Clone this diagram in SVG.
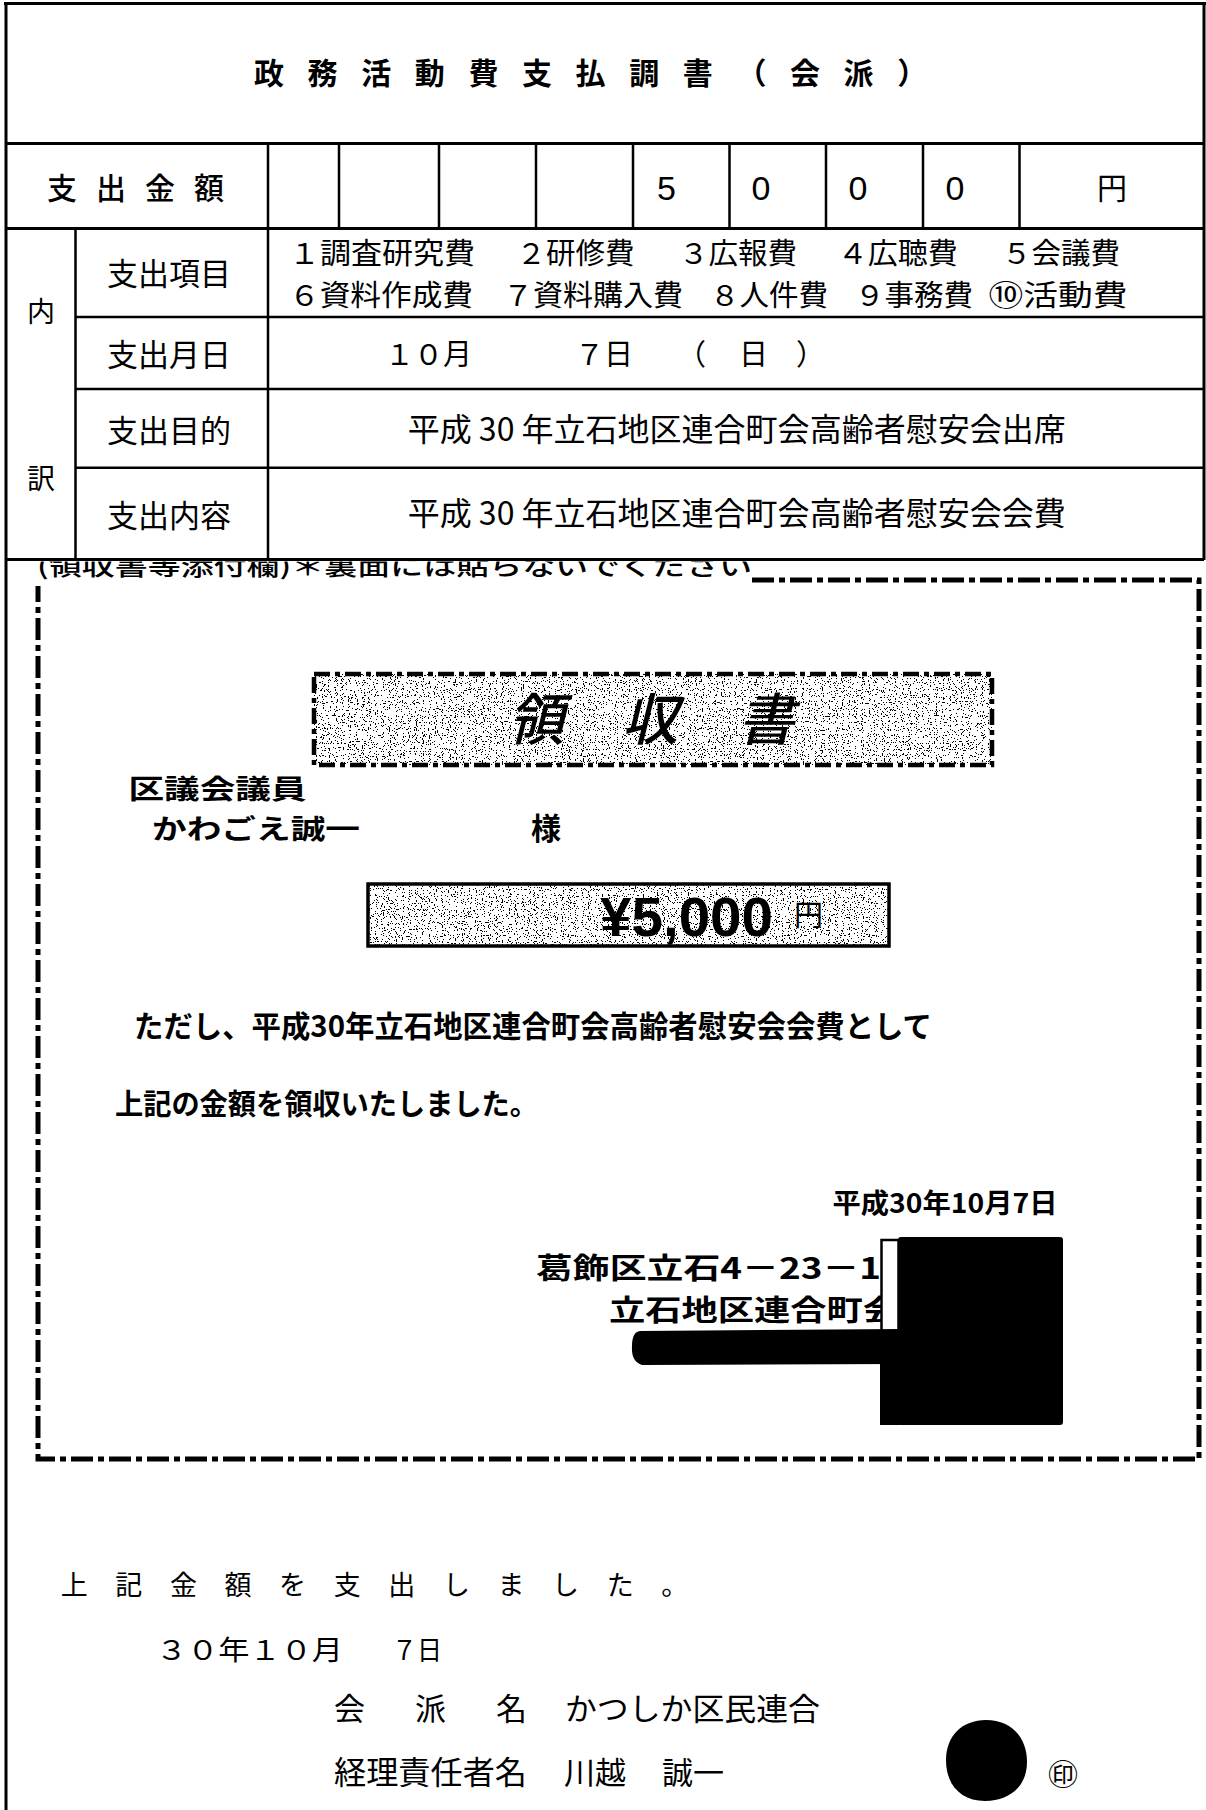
<svg xmlns="http://www.w3.org/2000/svg" width="1206" height="1810" viewBox="0 0 1206 1810">
<defs>
<style>
text{font-family:"Noto Sans CJK JP","Noto Sans CJK SC",sans-serif;fill:#000}
.ln{stroke:#000;stroke-width:3;fill:none}
.lt{stroke:#000;stroke-width:2.5;fill:none}
.b{font-weight:700}
.lat{font-family:"Liberation Sans",Arial,sans-serif}
.dd1{stroke:#000;stroke-width:5;fill:none;stroke-dasharray:22 5 6 5}
.dd2{stroke:#000;stroke-width:4.5;fill:none;stroke-dasharray:16 5 5 5}
</style>
<filter id="stip" x="0" y="0" width="1" height="1" color-interpolation-filters="sRGB">
<feTurbulence type="fractalNoise" baseFrequency="0.85" numOctaves="1" seed="4"/>
<feColorMatrix type="matrix" values="0 0 0 0 0  0 0 0 0 0  0 0 0 0 0  1 0 0 0 0"/>
<feComponentTransfer><feFuncA type="discrete" tableValues="0 0 0 0 0 0 0 0 0 0 0 0 0 0 0 0 0 0 0 0 0 0 0 0 0 1 1 1 1 1 1 1 1 1 1 1 1 1 1 1"/></feComponentTransfer>
</filter>
<clipPath id="cutTop"><rect x="0" y="561.5" width="1206" height="40"/></clipPath>
</defs>
<rect width="1206" height="1810" fill="#fff"/>

<g id="connectors">
<path class="ln" d="M6 2V1810M4 3.5H1206M1204 3V560M6 143.5H1204M6 228.5H1204M6 559.5H1204"/>
<path class="lt" d="M75.5 228.5V559.5M268 143.5V559.5M75.5 317H1204M75.5 389H1204M75.5 467.7H1204"/>
<path class="lt" d="M339 143.5V228.5M439 143.5V228.5M536 143.5V228.5M633 143.5V228.5M729.5 143.5V228.5M826 143.5V228.5M923 143.5V228.5M1019.5 143.5V228.5"/>
<path class="dd1" d="M752 580H1199V1459H38V586"/>
</g>

<g id="title"><text x="254" y="84" font-size="30" class="b" letter-spacing="23.6">政務活動費支払調書（会派）</text></g>

<g id="amount-row">
<text x="47" y="199" font-size="30" font-weight="500" letter-spacing="19">支出金額</text>
<g font-size="34" text-anchor="middle">
<text class="lat" x="666.5" y="200">5</text>
<text class="lat" x="761" y="200">0</text>
<text class="lat" x="858" y="200">0</text>
<text class="lat" x="955" y="200">0</text>
</g>
<text x="1097" y="199" font-size="30">円</text>
</g>

<g id="breakdown-label">
<text x="27" y="322" font-size="28">内</text>
<text x="27" y="489" font-size="28">訳</text>
</g>

<g id="row-items">
<text x="107" y="285" font-size="31">支出項目</text>
<g font-size="29">
<text x="289" y="263.5" textLength="186" lengthAdjust="spacingAndGlyphs">１調査研究費</text>
<text x="516.6" y="263.5" textLength="118" lengthAdjust="spacingAndGlyphs">２研修費</text>
<text x="679" y="263.5" textLength="118" lengthAdjust="spacingAndGlyphs">３広報費</text>
<text x="837.7" y="263.5" textLength="120" lengthAdjust="spacingAndGlyphs">４広聴費</text>
<text x="1002" y="263.5" textLength="118" lengthAdjust="spacingAndGlyphs">５会議費</text>
<text x="289" y="305.5" textLength="184" lengthAdjust="spacingAndGlyphs">６資料作成費</text>
<text x="503" y="305.5" textLength="180" lengthAdjust="spacingAndGlyphs">７資料購入費</text>
<text x="710" y="305.5" textLength="118" lengthAdjust="spacingAndGlyphs">８人件費</text>
<text x="855" y="305.5" textLength="118" lengthAdjust="spacingAndGlyphs">９事務費</text>
<text x="988.5" y="305.5" textLength="139" lengthAdjust="spacingAndGlyphs">⑩活動費</text>
</g>
</g>

<g id="row-date">
<text x="107" y="366" font-size="31">支出月日</text>
<g font-size="29">
<text x="385" y="365">１０月</text>
<text x="575" y="365">７日</text>
<text x="677" y="365">（</text>
<text x="739" y="365">日</text>
<text x="796" y="365">）</text>
</g>
</g>

<g id="row-purpose">
<text x="107" y="442" font-size="31">支出目的</text>
<text x="736.7" y="440.5" font-size="32" text-anchor="middle" textLength="658" lengthAdjust="spacingAndGlyphs">平成 30 年立石地区連合町会高齢者慰安会出席</text>
</g>

<g id="row-content">
<text x="107" y="526.5" font-size="31">支出内容</text>
<text x="736.7" y="525" font-size="32" text-anchor="middle" textLength="658" lengthAdjust="spacingAndGlyphs">平成 30 年立石地区連合町会高齢者慰安会会費</text>
</g>

<g id="attach-note" clip-path="url(#cutTop)">
<text x="37" y="575" font-size="24" font-weight="500" textLength="715" lengthAdjust="spacingAndGlyphs">(領収書等添付欄)＊裏面には貼らないでください</text>
</g>

<g id="receipt-title">
<rect x="314" y="674" width="678" height="91" fill="#fff"/>
<rect x="314" y="674" width="678" height="91" fill="#fff" filter="url(#stip)"/>
<rect class="dd2" x="314" y="674" width="678" height="91"/>
<g font-size="56" font-weight="500">
<text transform="translate(508 740) skewX(-14)">領</text>
<text transform="translate(622 740) skewX(-14)">収</text>
<text transform="translate(738 740) skewX(-14)">書</text>
</g>
</g>

<g id="receipt-addressee">
<text class="b" x="128.5" y="799" font-size="27.5" textLength="178" lengthAdjust="spacingAndGlyphs">区議会議員</text>
<text class="b" x="152" y="839" font-size="27.5" textLength="208" lengthAdjust="spacingAndGlyphs">かわごえ誠一</text>
<text class="b" x="531" y="839" font-size="30">様</text>
</g>

<g id="receipt-amount">
<rect x="368" y="884" width="521" height="62" fill="#fff"/>
<rect x="368" y="884" width="521" height="62" fill="#fff" filter="url(#stip)"/>
<rect x="368" y="884" width="521" height="62" fill="none" stroke="#000" stroke-width="3.5"/>
<text class="lat b" x="600" y="936" font-size="56" textLength="173" lengthAdjust="spacingAndGlyphs">¥5,000</text>
<text x="794" y="926" font-size="29">円</text>
</g>

<g id="receipt-body">
<text class="b" x="134" y="1037" font-size="30" textLength="798" lengthAdjust="spacingAndGlyphs">ただし、平成30年立石地区連合町会高齢者慰安会会費として</text>
<text class="b" x="115" y="1114.5" font-size="29" textLength="423" lengthAdjust="spacingAndGlyphs">上記の金額を領収いたしました。</text>
<text class="b" x="832.5" y="1213" font-size="27" textLength="225" lengthAdjust="spacingAndGlyphs">平成30年10月7日</text>
</g>

<g id="receipt-issuer">
<text class="b" x="536" y="1279" font-size="29" textLength="345" lengthAdjust="spacingAndGlyphs">葛飾区立石4－23－1</text>
<text class="b" x="609" y="1321" font-size="29" textLength="290" lengthAdjust="spacingAndGlyphs">立石地区連合町会</text>
<g id="redaction" fill="#000">
<rect x="898" y="1237" width="165" height="188" rx="3"/>
<rect x="880" y="1364" width="20" height="61"/>
<rect x="881.5" y="1240" width="17" height="125" fill="#fff" stroke="#000" stroke-width="2.5"/>
<path d="M640 1331L900 1329L900 1364L642 1365Q631 1362 632 1346Q632 1332 640 1331Z"/>
</g>
</g>

<g id="declaration">
<text x="60.7" y="1595" font-size="27" letter-spacing="27.6">上記金額を支出しました。</text>
<text x="156" y="1660" font-size="27" textLength="187" lengthAdjust="spacingAndGlyphs">３０年１０月</text>
<text x="392" y="1660" font-size="27" textLength="50" lengthAdjust="spacingAndGlyphs">７日</text>
</g>

<g id="faction">
<text x="334" y="1720" font-size="31" letter-spacing="50">会派名</text>
<text x="565" y="1720" font-size="31" textLength="255" lengthAdjust="spacingAndGlyphs">かつしか区民連合</text>
</g>

<g id="accountant">
<text x="334" y="1784" font-size="32" textLength="193" lengthAdjust="spacingAndGlyphs">経理責任者名</text>
<text x="564" y="1784" font-size="31">川越</text>
<text x="662" y="1784" font-size="31">誠一</text>
<path d="M986 1720C1012 1720 1027 1738 1027 1762C1027 1786 1010 1801 985 1801C961 1801 946 1785 946 1760C946 1736 962 1720 986 1720Z" fill="#000"/>
<text x="1048" y="1785" font-size="30">㊞</text>
</g>
</svg>
